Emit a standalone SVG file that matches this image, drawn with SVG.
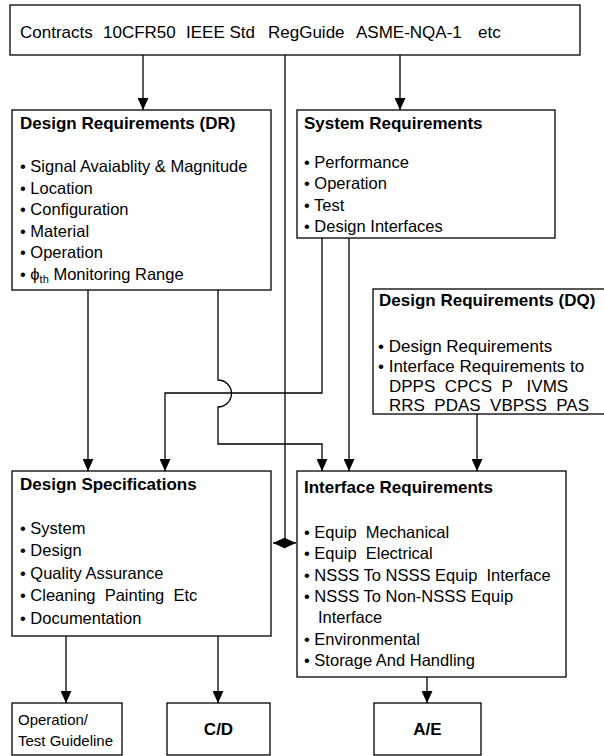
<svg xmlns="http://www.w3.org/2000/svg" width="604" height="756" viewBox="0 0 604 756">
<style>
.box{fill:#fff;stroke:#000;stroke-width:1.3}
.t{font-family:"Liberation Sans",Arial,sans-serif;font-size:16.5px;fill:#000}
.b{font-family:"Liberation Sans",Arial,sans-serif;font-size:17px;font-weight:bold;fill:#000}
.dq{font-size:17px}
.c{fill:none;stroke:#000;stroke-width:1.3}
.a{marker-end:url(#ah)}
</style>
<defs>
<marker id="ah" markerUnits="userSpaceOnUse" markerWidth="12" markerHeight="11" refX="12" refY="5.5" orient="auto-start-reverse">
<path d="M0,0 L12,5.5 L0,11 z" fill="#000"/>
</marker>
</defs>
<rect width="604" height="756" fill="#fff"/>

<g id="connectors">
<path class="c a" d="M143,55 V110"/>
<path class="c a" d="M400,55 V110"/>
<path class="c" d="M285,55 V543"/>
<path class="c" d="M273,543 H296" marker-start="url(#ah)" marker-end="url(#ah)"/>
<path class="c a" d="M88,290 V471"/>
<path class="c a" d="M218,290 V380 A13.5,13.5 0 0 1 218,407 V444 H322 V471"/>
<path class="c a" d="M322,238 V393 H165 V471"/>
<path class="c a" d="M349,238 V471"/>
<path class="c a" d="M477,414 V471"/>
<path class="c a" d="M66,636 V703"/>
<path class="c a" d="M218,636 V703"/>
<path class="c a" d="M427,677 V703"/>
</g>

<g id="sources">
<rect class="box" x="10" y="5" width="570" height="50"/>
<text class="t" style="font-size:17px" y="38"><tspan x="20">Contracts</tspan><tspan x="103">10CFR50</tspan><tspan x="186">IEEE Std</tspan><tspan x="268">RegGuide</tspan><tspan x="356">ASME-NQA-1</tspan><tspan x="478">etc</tspan></text>
</g>

<g id="design-req-dr">
<rect class="box" x="12" y="110" width="259" height="180"/>
<text class="b" x="20" y="129">Design Requirements (DR)</text>
<text class="t" x="20" y="172">• Signal Avaiablity &amp; Magnitude</text>
<text class="t" x="20" y="193.5">• Location</text>
<text class="t" x="20" y="215">• Configuration</text>
<text class="t" x="20" y="236.5">• Material</text>
<text class="t" x="20" y="258">• Operation</text>
<text class="t" x="20" y="279.5">• ϕ<tspan font-size="11" dy="3">th</tspan><tspan dy="-3"> Monitoring Range</tspan></text>
</g>

<g id="system-req">
<rect class="box" x="297" y="110" width="258" height="128"/>
<text class="b" x="304" y="129">System Requirements</text>
<text class="t" x="304" y="167.5">• Performance</text>
<text class="t" x="304" y="189">• Operation</text>
<text class="t" x="304" y="210.5">• Test</text>
<text class="t" x="304" y="232">• Design Interfaces</text>
</g>

<g id="design-req-dq">
<rect class="box" x="373" y="289" width="240" height="125"/>
<text class="b" x="379" y="306">Design Requirements (DQ)</text>
<text class="t dq" x="378" y="351.5">• Design Requirements</text>
<text class="t dq" x="378" y="371.5">• Interface Requirements to</text>
<text class="t dq" x="389" y="391.5" style="white-space:pre">DPPS  CPCS  P   IVMS</text>
<text class="t dq" x="389" y="411" style="white-space:pre">RRS  PDAS  VBPSS  PAS</text>
</g>

<g id="design-spec">
<rect class="box" x="12" y="471" width="259" height="165"/>
<text class="b" x="20" y="490">Design Specifications</text>
<text class="t" x="20" y="533.5">• System</text>
<text class="t" x="20" y="556">• Design</text>
<text class="t" x="20" y="578.5">• Quality Assurance</text>
<text class="t" x="20" y="601" style="white-space:pre">• Cleaning  Painting  Etc</text>
<text class="t" x="20" y="623.5">• Documentation</text>
</g>

<g id="interface-req">
<rect class="box" x="297" y="471" width="269" height="206"/>
<text class="b" x="304" y="493">Interface Requirements</text>
<text class="t" x="304" y="537.5" style="white-space:pre">• Equip  Mechanical</text>
<text class="t" x="304" y="559" style="white-space:pre">• Equip  Electrical</text>
<text class="t" x="304" y="580.5" style="white-space:pre">• NSSS To NSSS Equip  Interface</text>
<text class="t" x="304" y="602">• NSSS To Non-NSSS Equip</text>
<text class="t" x="318" y="623">Interface</text>
<text class="t" x="304" y="644.5">• Environmental</text>
<text class="t" x="304" y="666">• Storage And Handling</text>
</g>

<g id="operation-test">
<rect class="box" x="12" y="703" width="110" height="52"/>
<text class="t" style="font-size:15px" x="18" y="725">Operation/</text>
<text class="t" style="font-size:15px" x="18" y="746">Test Guideline</text>
</g>

<g id="cd">
<rect class="box" x="167" y="703" width="103" height="52"/>
<text class="b" x="218.5" y="735" text-anchor="middle">C/D</text>
</g>

<g id="ae">
<rect class="box" x="374" y="703" width="107" height="52"/>
<text class="b" x="427.5" y="735" text-anchor="middle">A/E</text>
</g>
</svg>
